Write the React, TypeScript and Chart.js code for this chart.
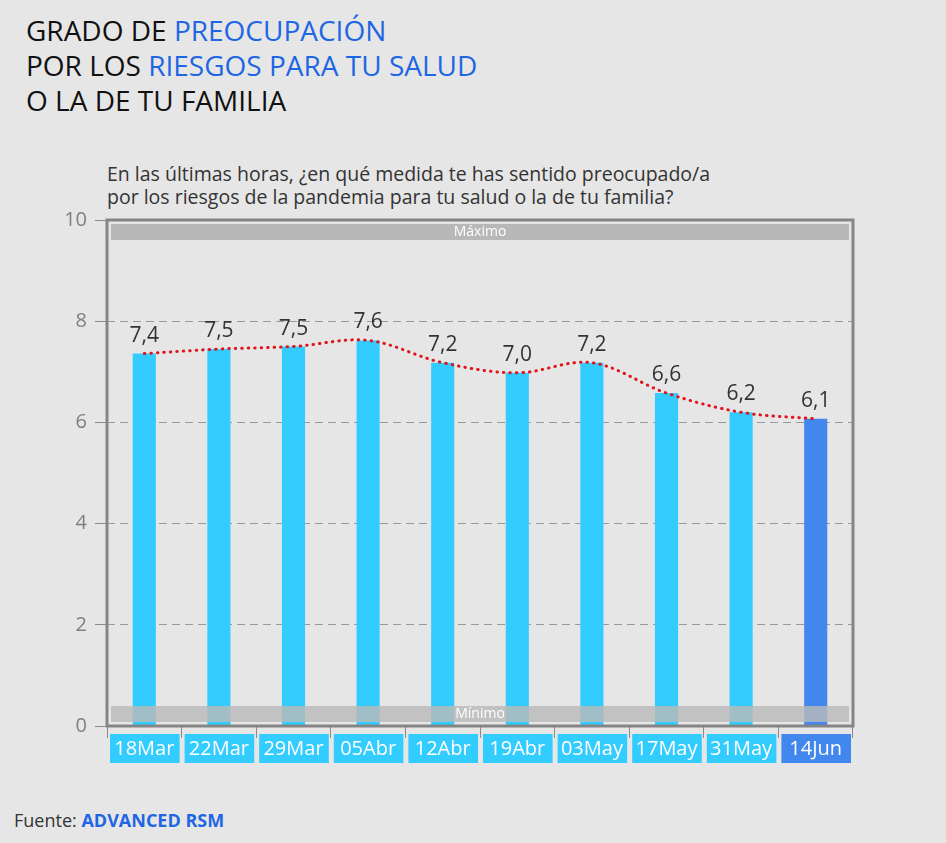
import React, { useEffect, useRef } from "react";
import { Chart, registerables } from "chart.js";

Chart.register(...registerables);

const categories = ["18Mar", "22Mar", "29Mar", "05Abr", "12Abr", "19Abr", "03May", "17May", "31May", "14Jun"];
const values = [7.36, 7.45, 7.5, 7.62, 7.18, 6.98, 7.18, 6.58, 6.2, 6.07];
const valueLabels = ["7,4", "7,5", "7,5", "7,6", "7,2", "7,0", "7,2", "6,6", "6,2", "6,1"];
const yTicks = [0, 2, 4, 6, 8, 10];

const BAR = "#33ccff";
const BAR_LAST = "#4287ee";
const FONT = "'Open Sans', 'Noto Sans', sans-serif";

const overlayPlugin = {
  id: "overlay",
  beforeDatasetsDraw(chart: any) {
    const { ctx, chartArea } = chart;
    ctx.save();
    ctx.fillStyle = "#b8b8b8";
    const top = chartArea.top + 4;
    ctx.fillRect(chartArea.left + 4, top, chartArea.right - chartArea.left - 8, 16);
    ctx.fillStyle = "#ffffff";
    ctx.font = `14px ${FONT}`;
    ctx.textAlign = "center";
    ctx.textBaseline = "middle";
    ctx.fillText("Máximo", (chartArea.left + chartArea.right) / 2, top + 8);
    ctx.restore();
  },
  afterDatasetsDraw(chart: any) {
    const { ctx, chartArea } = chart;
    const x = chart.scales.x;
    ctx.save();
    const bottom = chartArea.bottom - 4;
    ctx.fillStyle = "rgba(185,185,185,0.82)";
    ctx.fillRect(chartArea.left + 4, bottom - 16, chartArea.right - chartArea.left - 8, 16);
    ctx.fillStyle = "#ffffff";
    ctx.font = `14px ${FONT}`;
    ctx.textAlign = "center";
    ctx.textBaseline = "middle";
    ctx.fillText("Mínimo", (chartArea.left + chartArea.right) / 2, bottom - 8);

    const meta = chart.getDatasetMeta(0);
    ctx.fillStyle = "#333333";
    ctx.font = `21px ${FONT}`;
    ctx.textBaseline = "alphabetic";
    meta.data.forEach((bar: any, i: number) => {
      ctx.fillText(valueLabels[i], bar.x, bar.y - 12);
    });

    ctx.strokeStyle = "#858585";
    ctx.lineWidth = 3;
    ctx.strokeRect(chartArea.left, chartArea.top, chartArea.right - chartArea.left, chartArea.bottom - chartArea.top);

    const n = categories.length;
    const step = (chartArea.right - chartArea.left) / n;
    ctx.font = `20px ${FONT}`;
    ctx.textBaseline = "middle";
    categories.forEach((c, i) => {
      const cx = x.getPixelForValue(i);
      const x0 = cx - step / 2 + 3;
      ctx.fillStyle = i === n - 1 ? BAR_LAST : BAR;
      ctx.fillRect(x0, chartArea.bottom + 8, step - 5, 29);
      ctx.fillStyle = "#ffffff";
      ctx.fillText(c, cx, chartArea.bottom + 23);
    });
    ctx.restore();
  },
};

function ChartView() {
  const ref = useRef<HTMLCanvasElement>(null);
  useEffect(() => {
    const chart = new Chart(ref.current!, {
      type: "bar",
      data: {
        labels: categories,
        datasets: [
          {
            type: "bar",
            data: values,
            backgroundColor: values.map((_, i) => (i === values.length - 1 ? BAR_LAST : BAR)),
            barPercentage: 0.31,
            categoryPercentage: 1,
            order: 2,
          },
          {
            type: "line",
            data: values,
            borderColor: "#e0151b",
            borderWidth: 3,
            borderDash: [0.5, 6],
            borderCapStyle: "round",
            pointRadius: 0,
            tension: 0.35,
            fill: false,
            order: 1,
          } as any,
        ],
      },
      options: {
        animation: false,
        responsive: false,
        maintainAspectRatio: false,
        layout: { padding: { left: 0, right: 17, top: 16, bottom: 4 } },
        plugins: { legend: { display: false }, tooltip: { enabled: false } },
        scales: {
          x: {
            offset: true,
            grid: { offset: true, drawOnChartArea: false, drawTicks: true, tickLength: 12, color: "#8a8a8a", lineWidth: 1 },
            border: { display: false },
            ticks: { display: false },
            afterFit: (s: any) => { s.height = 50; },
          },
          y: {
            min: 0,
            max: 10,
            afterBuildTicks: (s: any) => { s.ticks = yTicks.map((v) => ({ value: v })); },
            ticks: { color: "#7f7f7f", font: { family: FONT, size: 20 }, padding: 8 },
            grid: {
              color: "#9a9a9a",
              lineWidth: 1,
              tickLength: 12,
              tickColor: "#8a8a8a",
            },
            border: { display: false, dash: [8, 5] },
            afterFit: (s: any) => { s.width = 107; },
          },
        },
      },
      plugins: [overlayPlugin],
    });
    return () => chart.destroy();
  }, []);
  return <canvas ref={ref} width={870} height={580} style={{ position: "absolute", left: 0, top: 200, width: 870, height: 580 }} />;
}

export default function App() {
  const blue = "#1f66e5";
  return (
    <div style={{ position: "fixed", left: 0, top: 0, width: 946, height: 843, background: "#e6e6e6", fontFamily: FONT, overflow: "hidden" }}>
      <div style={{ position: "absolute", left: 26, top: 13, fontSize: 28, lineHeight: "35px", color: "#111", whiteSpace: "nowrap" }}>
        <div>GRADO DE <span style={{ color: blue }}>PREOCUPACIÓN</span></div>
        <div>POR LOS <span style={{ color: blue }}>RIESGOS PARA TU SALUD</span></div>
        <div>O LA DE TU FAMILIA</div>
      </div>
      <div style={{ position: "absolute", left: 107, top: 162, fontSize: 19.5, lineHeight: "23px", color: "#333", whiteSpace: "nowrap" }}>
        <div>En las últimas horas, ¿en qué medida te has sentido preocupado/a</div>
        <div>por los riesgos de la pandemia para tu salud o la de tu familia?</div>
      </div>
      <ChartView />
      <div style={{ position: "absolute", left: 14, top: 808, fontSize: 18, color: "#333", whiteSpace: "nowrap" }}>
        Fuente: <span style={{ color: blue, fontWeight: 700 }}>ADVANCED RSM</span>
      </div>
    </div>
  );
}
